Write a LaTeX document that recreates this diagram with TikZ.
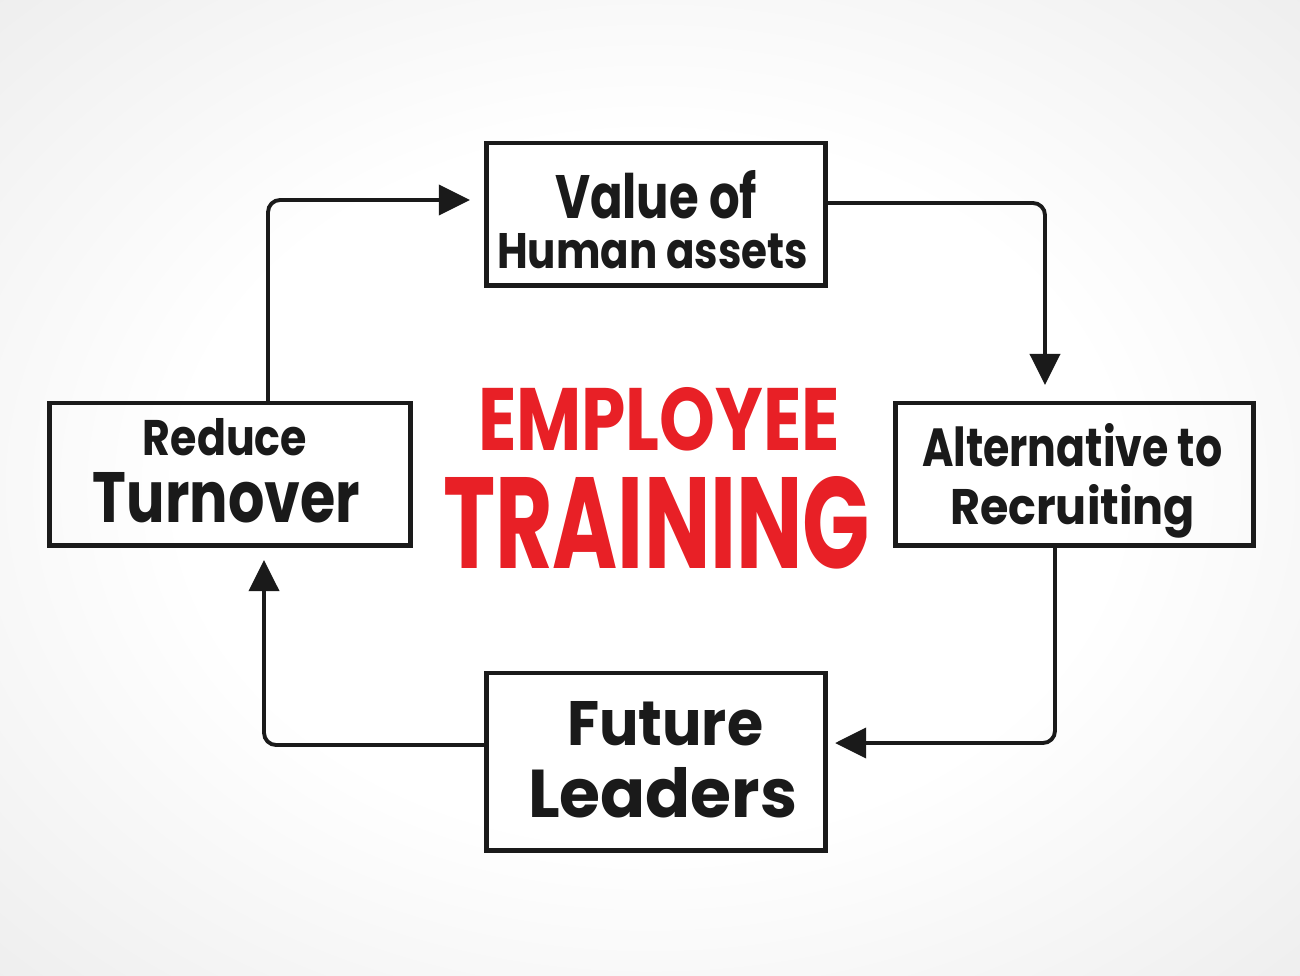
\documentclass[tikz,border=0pt]{standalone}
\usepackage{fontspec}
\setmainfont{Poppins}
\usetikzlibrary{arrows.meta}
\definecolor{ink}{RGB}{26,26,26}
\definecolor{titlered}{RGB}{232,32,38}
\pgfdeclareradialshading{bgshade}{\pgfpoint{0bp}{0bp}}{color(0bp)=(white); color(18bp)=(white); color(50bp)=(black!12); color(72bp)=(black!21)}
\newcommand{\fitline}[3]{\resizebox{#1}{#2}{\bfseries #3}}
\begin{document}
\begin{tikzpicture}[x=0.01cm,y=-0.01cm,
  box/.style={draw=ink, line width=1.4pt, inner sep=0pt, outer sep=0pt},
  conn/.style={draw=ink, line width=1.1pt, rounded corners=0.12cm, -{Triangle[length=0.31cm,width=0.3cm]}},
  txt/.style={anchor=base west, inner sep=0pt, outer sep=0pt, text=ink},
  ttl/.style={anchor=base west, inner sep=0pt, outer sep=0pt, text=titlered}]
\useasboundingbox (0,0) rectangle (1300,975);
\shade[shading=bgshade] (0,0) rectangle (1300,975);

% boxes
\node[box, minimum width=3.38cm, minimum height=1.42cm] (top) at (656,214) {};
\node[box, minimum width=3.60cm, minimum height=1.42cm] (left) at (230,474) {};
\node[box, minimum width=3.57cm, minimum height=1.42cm] (right) at (1074.5,474) {};
\node[box, minimum width=3.38cm, minimum height=1.77cm] (bottom) at (656,761.5) {};

% texts
\node[txt] (t1a) at (555,218) {\fitline{2.02cm}{0.48cm}{Value of}};
\node[txt] (t1b) at (497,268) {\fitline{3.11cm}{0.35cm}{Human assets}};
\node[txt] (t2a) at (143,455) {\fitline{1.64cm}{0.37cm}{Reduce}};
\node[txt] (t2b) at (93,522) {\fitline{2.67cm}{0.50cm}{Turnover}};
\node[txt] (t3a) at (922,466) {\fitline{3.00cm}{0.43cm}{Alternative to}};
\node[txt] (t3b) at (950,524) {\fitline{2.45cm}{0.40cm}{Recruiting}};
\node[txt] (t4a) at (567,745) {\fitline{1.96cm}{0.44cm}{Future}};
\node[txt] (t4b) at (528,817) {\fitline{2.69cm}{0.50cm}{Leaders}};
\node[ttl] (ttla) at (478,450) {\fitline{3.62cm}{0.63cm}{EMPLOYEE}};
\node[ttl] (ttlb) at (443,568) {\fitline{4.27cm}{0.92cm}{TRAINING}};

% connectors
\draw[conn] ([xshift=0.38cm]left.north) |- ([xshift=-0.17cm,yshift=0.14cm]top.west);
\draw[conn] ([yshift=0.11cm]top.east) -| ([xshift=-0.295cm,yshift=0.18cm]right.north);
\draw[conn] ([xshift=-0.195cm]right.south) |- ([xshift=0.10cm,yshift=0.185cm]bottom.east);
\draw[conn] ([yshift=0.165cm]bottom.west) -| ([xshift=0.34cm,yshift=-0.15cm]left.south);
\end{tikzpicture}
\end{document}
